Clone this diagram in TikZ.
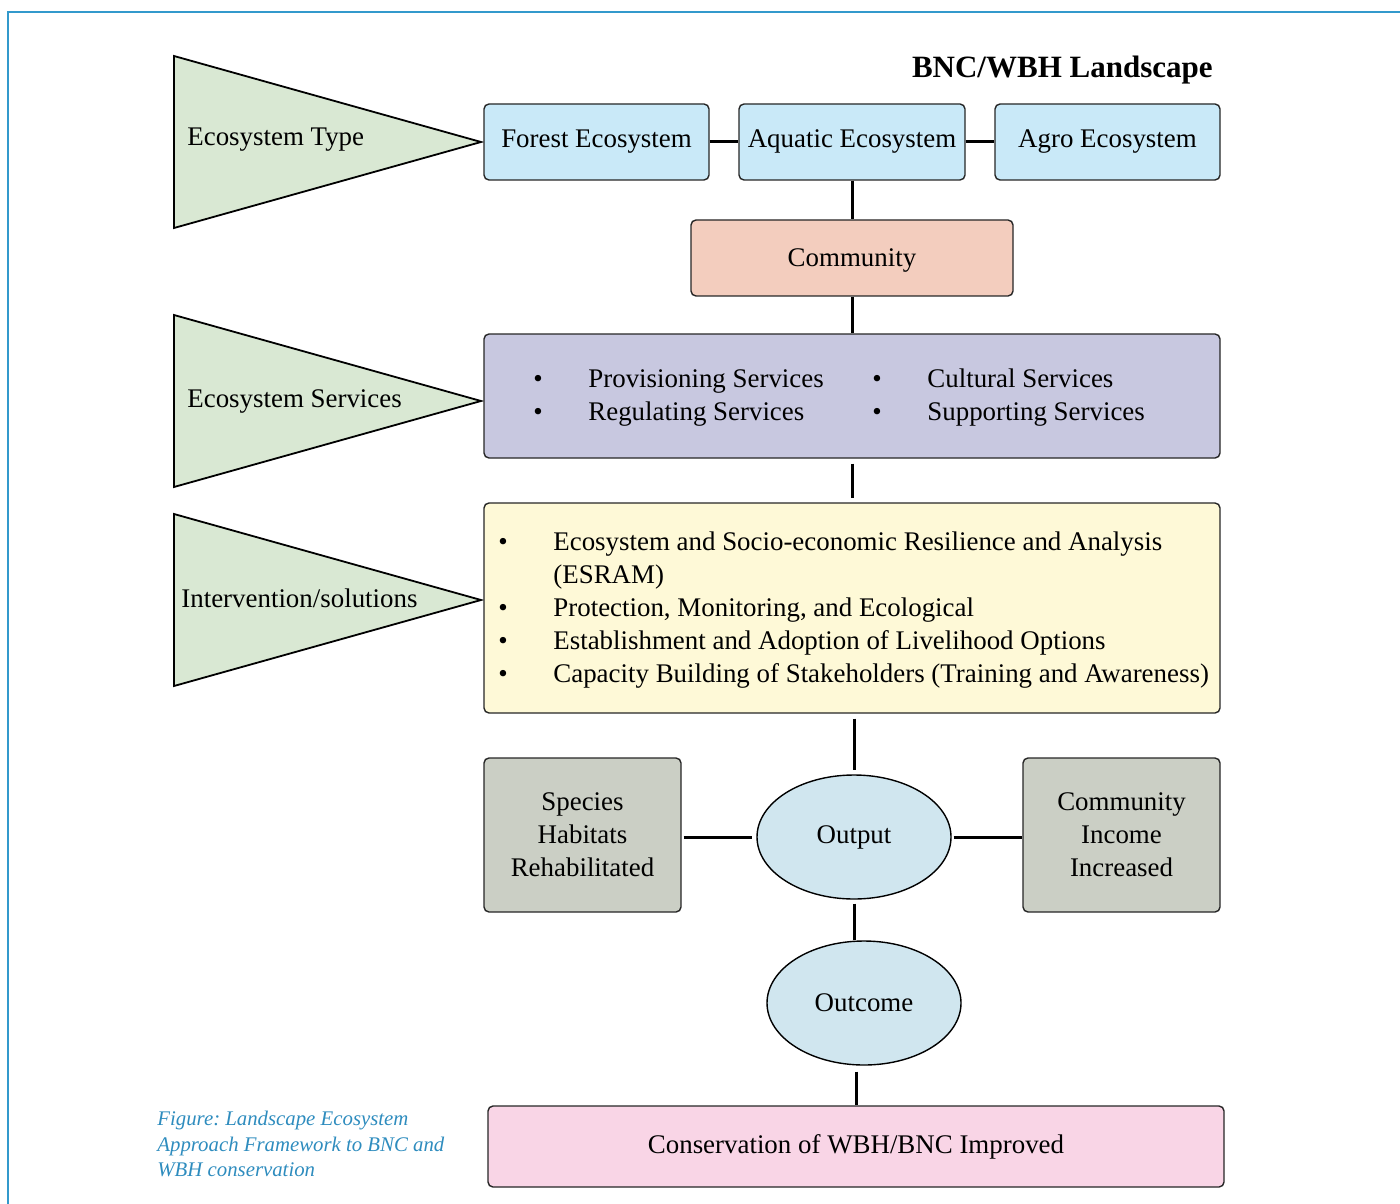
\documentclass[tikz,border=0pt]{standalone}
\usepackage{fontspec}
\setmainfont{Liberation Serif}
\usetikzlibrary{shapes.geometric}
\definecolor{triG}{RGB}{217,232,211}
\definecolor{ecoB}{RGB}{201,233,248}
\definecolor{comS}{RGB}{243,205,190}
\definecolor{serL}{RGB}{200,200,224}
\definecolor{intY}{RGB}{254,249,215}
\definecolor{ellB}{RGB}{208,230,239}
\definecolor{grayG}{RGB}{203,207,197}
\definecolor{pinkC}{RGB}{249,213,230}
\definecolor{frameB}{RGB}{51,153,204}
\definecolor{capB}{RGB}{46,140,190}
\frenchspacing
\newcommand{\bodyfont}{\fontsize{13.45}{16.5}\selectfont}
\tikzset{
  box/.style={draw=black!85, line width=0.7pt, rounded corners=2.5pt, inner sep=0pt, align=center, font=\bodyfont},
  ell/.style={ellipse, draw=black, line width=0.7pt, fill=ellB, inner sep=0pt, minimum width=97pt, minimum height=62pt, font=\bodyfont},
  conn/.style={line width=1.5pt},
  tri/.style={draw=black, line width=0.9pt, fill=triG},
  txt/.style={inner sep=0pt, font=\bodyfont}
}
\begin{document}
\begin{tikzpicture}[x=0.5pt, y=-0.5pt]
\useasboundingbox (0,0) rectangle (1400,1203);
% frame
\draw[frameB, line width=1pt] (8,1210) -- (8,12) -- (1410,12);

% triangles
\draw[tri] (174,56) -- (481,142) -- (174,228) -- cycle;
\node[txt, anchor=base west] (t1) at (187,146) {Ecosystem Type};
\draw[tri] (174,315) -- (481,401) -- (174,487) -- cycle;
\node[txt, anchor=base west] (t2) at (187,407) {Ecosystem Services};
\draw[tri] (174,514) -- (481,600) -- (174,686) -- cycle;
\node[txt, anchor=base west] (t3) at (181,607) {Intervention/solutions};

% title
\node[inner sep=0pt, anchor=base east, font=\fontsize{15.5}{18}\selectfont\bfseries] (title) at (1213,78) {BNC/WBH Landscape};

% ecosystem boxes
\node[box, fill=ecoB, minimum width=112.5pt, minimum height=38pt] (forest) at (596.5,142) {Forest Ecosystem};
\node[box, fill=ecoB, minimum width=113pt, minimum height=38pt] (aquatic) at (852,142) {Aquatic Ecosystem};
\node[box, fill=ecoB, minimum width=112.5pt, minimum height=38pt] (agro) at (1107.5,142) {Agro Ecosystem};

\node[box, fill=comS, minimum width=161pt, minimum height=38pt, text depth=0pt] (community) at (852,258) {Community};

\node[box, fill=serL, minimum width=368pt, minimum height=62pt] (services) at (852,396) {};
\node[txt, anchor=base] (b1) at (538,387) {\textbullet};
\node[txt, anchor=base west] (s1) at (588,387) {Provisioning Services};
\node[txt, anchor=base] (b2) at (538,420) {\textbullet};
\node[txt, anchor=base west] (s2) at (588,420) {Regulating Services};
\node[txt, anchor=base] (b3) at (877,387) {\textbullet};
\node[txt, anchor=base west] (s3) at (927,387) {Cultural Services};
\node[txt, anchor=base] (b4) at (877,420) {\textbullet};
\node[txt, anchor=base west] (s4) at (927,420) {Supporting Services};

\node[box, fill=intY, minimum width=368pt, minimum height=105pt] (interv) at (852,608) {};
\node[txt, anchor=base] (ib1) at (503,550) {\textbullet};
\node[txt, anchor=base west] (i1) at (553,550) {Ecosystem and Socio-economic Resilience and Analysis};
\node[txt, anchor=base west] (i1b) at (553,583) {(ESRAM)};
\node[txt, anchor=base] (ib2) at (503,616) {\textbullet};
\node[txt, anchor=base west] (i2) at (553,616) {Protection, Monitoring, and Ecological};
\node[txt, anchor=base] (ib3) at (503,649) {\textbullet};
\node[txt, anchor=base west] (i3) at (553,649) {Establishment and Adoption of Livelihood Options};
\node[txt, anchor=base] (ib4) at (503,682) {\textbullet};
\node[txt, anchor=base west] (i4) at (553,682) {Capacity Building of Stakeholders (Training and Awareness)};

\node[box, fill=grayG, minimum width=98.5pt, minimum height=77pt] (species) at (582.5,835) {Species\\Habitats\\Rehabilitated};
\node[box, fill=grayG, minimum width=98.5pt, minimum height=77pt] (income) at (1121.5,835) {Community\\Income\\Increased};

\node[ell] (output) at (854,837) {Output};
\node[ell] (outcome) at (864,1003) {Outcome};

\node[box, fill=pinkC, minimum width=368pt, minimum height=40.5pt] (conserv) at (856,1146.5) {Conservation of WBH/BNC Improved};

% caption
\node[inner sep=0pt, anchor=north west, align=left, text=capB, font=\fontsize{10.4}{12.75}\selectfont\itshape] (caption) at (157,1111) {Figure: Landscape Ecosystem\\Approach Framework to BNC and\\WBH conservation};

% connectors
\draw[conn] (forest.east) -- (aquatic.west);
\draw[conn] (aquatic.east) -- (agro.west);
\draw[conn] (aquatic.south) -- (community.north);
\draw[conn] (community.south) -- (services.north);
\draw[conn, shorten <=2.5pt, shorten >=2pt] (services.south) -- (interv.north);
\draw[conn, shorten <=2.5pt, shorten >=2pt] (output.north |- interv.south) -- (output.north);
\draw[conn, shorten <=1pt, shorten >=2pt] (species.east |- output.west) -- (output.west);
\draw[conn, shorten <=1pt] (output.east) -- (income.west |- output.east);
\draw[conn, shorten <=2pt] (output.south) -- (outcome.north -| output.south);
\draw[conn, shorten <=3pt] (conserv.north |- outcome.south) -- (conserv.north);
\end{tikzpicture}
\end{document}
